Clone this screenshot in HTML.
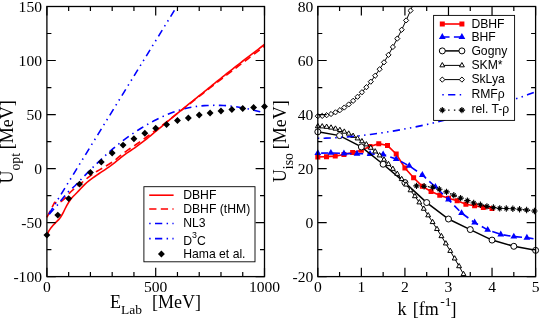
<!DOCTYPE html>
<html><head><meta charset="utf-8"><title>U_opt and U_iso</title>
<style>
html,body{margin:0;padding:0;background:#fff;}
body{width:540px;height:319px;overflow:hidden;font-family:"Liberation Sans",sans-serif;}
svg{display:block;will-change:transform;}
</style></head><body>
<svg width="540" height="319" viewBox="0 0 540 319">
<rect width="540" height="319" fill="#fff"/>
<g id="left">
<path d="M46.9 217.4 L54.6 202.3 L56.96 202.86 L59.32 202.46 L61.68 201.1 L64.03 199.09 L66.39 196.52 L68.75 193.96 L71.11 191.46 L73.47 189.32 L75.83 187.45 L78.18 185.65 L80.54 183.73 L82.9 181.74 L85.26 179.79 L87.62 177.89 L89.98 176.03 L92.33 174.28 L94.69 172.69 L97.05 171.25 L99.41 169.89 L101.77 168.53 L104.13 167.12 L106.49 165.7 L108.84 164.26 L111.2 162.74 L113.56 161.08 L115.92 159.27 L118.28 157.37 L120.64 155.44 L122.99 153.56 L125.35 151.78 L127.71 150.11 L130.07 148.49 L132.43 146.91 L134.79 145.33 L137.14 143.74 L139.5 142.11 L141.86 140.43 L144.22 138.73 L146.58 137 L148.94 135.26 L151.3 133.51 L153.65 131.74 L156.01 129.96 L158.37 128.18 L160.73 126.39 L163.09 124.59 L165.45 122.77 L167.8 120.94 L170.16 119.09 L172.52 117.25 L174.88 115.4 L177.24 113.56 L179.6 111.71 L181.96 109.88 L184.31 108.04 L186.67 106.19 L189.03 104.35 L191.39 102.5 L193.75 100.65 L196.11 98.8 L198.46 96.96 L200.82 95.11 L203.18 93.26 L205.54 91.42 L207.9 89.58 L210.26 87.74 L212.61 85.9 L214.97 84.07 L217.33 82.24 L219.69 80.42 L222.05 78.6 L224.41 76.79 L226.77 74.98 L229.12 73.17 L231.48 71.36 L233.84 69.55 L236.2 67.75 L238.56 65.95 L240.92 64.15 L243.27 62.35 L245.63 60.56 L247.99 58.77 L250.35 56.98 L252.71 55.19 L255.07 53.41 L257.42 51.63 L259.78 49.85 L262.14 48.07 L264.5 46.3" fill="none" stroke="#ff0000" stroke-width="1.6" stroke-dasharray="7.25 4.35"/>
<path d="M46.9 217.3 L175 9.39" fill="none" stroke="#0000ff" stroke-width="1.6" stroke-dasharray="1.45 4.35 7.25 4.35 1.45 4.35" stroke-dashoffset="2"/>
<path d="M46.9 217.3 L50.05 213.31 L53.2 209.67 L56.35 206.34 L59.5 202.44 L62.65 198.43 L65.8 194.52 L68.96 191.14 L72.11 188.32 L75.26 185.48 L78.41 182.17 L81.56 178.87 L84.71 175.62 L87.86 172.41 L91.01 169.24 L94.16 166.13 L97.31 163.06 L100.46 160.06 L103.61 157.11 L106.76 154.2 L109.91 151.37 L113.07 148.63 L116.22 146 L119.37 143.45 L122.52 140.98 L125.67 138.6 L128.82 136.33 L131.97 134.15 L135.12 132.04 L138.27 129.99 L141.42 128.02 L144.57 126.11 L147.72 124.28 L150.87 122.52 L154.02 120.81 L157.18 119.17 L160.33 117.61 L163.48 116.16 L166.63 114.82 L169.78 113.55 L172.93 112.35 L176.08 111.24 L179.23 110.23 L182.38 109.31 L185.53 108.46 L188.68 107.75 L191.83 107.19 L194.98 106.68 L198.13 106.23 L201.29 105.87 L204.44 105.63 L207.59 105.48 L210.74 105.37 L213.89 105.31 L217.04 105.32 L220.19 105.4 L223.34 105.52 L226.49 105.69 L229.64 105.96 L232.79 106.32 L235.94 106.72 L239.09 107.19 L242.24 107.74 L245.4 108.35 L248.55 108.99 L251.7 109.67 L254.85 110.41 L258 111.22 L261.15 112.09 L264.3 113" fill="none" stroke="#0000ff" stroke-width="1.6" stroke-dasharray="1.45 4.35 7.25 4.35" stroke-dashoffset="2"/>
<path d="M46.9 235 L48.9 230.85 L50.89 227.91 L52.89 225.55 L54.89 223.43 L56.88 221.43 L58.88 219.37 L60.87 216.79 L62.87 213.25 L64.87 209.26 L66.86 205.31 L68.86 201.97 L70.86 199.06 L72.85 196.68 L74.85 194.75 L76.84 192.71 L78.84 190.64 L80.84 188.52 L82.83 186.42 L84.83 184.36 L86.83 182.51 L88.82 180.82 L90.82 179.29 L92.82 177.85 L94.81 176.47 L96.81 175.11 L98.8 173.76 L100.8 172.44 L102.8 171.13 L104.79 169.81 L106.79 168.46 L108.79 167.09 L110.78 165.69 L112.78 164.21 L114.78 162.63 L116.77 160.98 L118.77 159.31 L120.76 157.66 L122.76 156.08 L124.76 154.61 L126.75 153.21 L128.75 151.86 L130.75 150.53 L132.74 149.18 L134.74 147.79 L136.73 146.35 L138.73 144.9 L140.73 143.42 L142.72 141.92 L144.72 140.39 L146.72 138.84 L148.71 137.23 L150.71 135.59 L152.71 133.93 L154.7 132.26 L156.7 130.6 L158.69 128.94 L160.69 127.27 L162.69 125.59 L164.68 123.93 L166.68 122.26 L168.68 120.59 L170.67 118.93 L172.67 117.26 L174.67 115.6 L176.66 113.95 L178.66 112.3 L180.65 110.67 L182.65 109.04 L184.65 107.42 L186.64 105.81 L188.64 104.21 L190.64 102.6 L192.63 101 L194.63 99.41 L196.62 97.81 L198.62 96.21 L200.62 94.6 L202.61 93 L204.61 91.39 L206.61 89.78 L208.6 88.16 L210.6 86.55 L212.6 84.94 L214.59 83.33 L216.59 81.72 L218.58 80.12 L220.58 78.52 L222.58 76.92 L224.57 75.33 L226.57 73.74 L228.57 72.17 L230.56 70.59 L232.56 69.03 L234.56 67.47 L236.55 65.91 L238.55 64.35 L240.54 62.8 L242.54 61.25 L244.54 59.71 L246.53 58.17 L248.53 56.64 L250.53 55.11 L252.52 53.58 L254.52 52.05 L256.51 50.54 L258.51 49.02 L260.51 47.51 L262.5 46 L264.5 44.5" fill="none" stroke="#ff0000" stroke-width="1.6"/>
<path d="M43.45 235.1 l3.45 -3.45 l3.45 3.45 l-3.45 3.45 z M54.33 215.1 l3.45 -3.45 l3.45 3.45 l-3.45 3.45 z M65.21 198.6 l3.45 -3.45 l3.45 3.45 l-3.45 3.45 z M76.09 184.1 l3.45 -3.45 l3.45 3.45 l-3.45 3.45 z M86.97 172.5 l3.45 -3.45 l3.45 3.45 l-3.45 3.45 z M97.85 162.1 l3.45 -3.45 l3.45 3.45 l-3.45 3.45 z M108.73 153 l3.45 -3.45 l3.45 3.45 l-3.45 3.45 z M119.61 145.1 l3.45 -3.45 l3.45 3.45 l-3.45 3.45 z M130.49 138.7 l3.45 -3.45 l3.45 3.45 l-3.45 3.45 z M141.37 133.3 l3.45 -3.45 l3.45 3.45 l-3.45 3.45 z M152.25 128.2 l3.45 -3.45 l3.45 3.45 l-3.45 3.45 z M163.13 124.5 l3.45 -3.45 l3.45 3.45 l-3.45 3.45 z M174.01 120.5 l3.45 -3.45 l3.45 3.45 l-3.45 3.45 z M184.89 118 l3.45 -3.45 l3.45 3.45 l-3.45 3.45 z M195.77 115 l3.45 -3.45 l3.45 3.45 l-3.45 3.45 z M206.65 113 l3.45 -3.45 l3.45 3.45 l-3.45 3.45 z M217.53 111 l3.45 -3.45 l3.45 3.45 l-3.45 3.45 z M228.41 109.5 l3.45 -3.45 l3.45 3.45 l-3.45 3.45 z M239.29 108.5 l3.45 -3.45 l3.45 3.45 l-3.45 3.45 z M250.17 107.5 l3.45 -3.45 l3.45 3.45 l-3.45 3.45 z M261.05 106.5 l3.45 -3.45 l3.45 3.45 l-3.45 3.45 z" fill="#000"/>
<rect x="143.9" y="186.7" width="111.1" height="75.1" fill="#fff" stroke="#000" stroke-width="0.9"/>
<path d="M149.2 195.2 H173.6" stroke="#ff0000" stroke-width="1.6" fill="none"/>
<path d="M149.2 209 H173.6" stroke="#ff0000" stroke-width="1.6" fill="none" stroke-dasharray="7.25 4.35"/>
<path d="M149.2 223.5 H173.6" stroke="#0000ff" stroke-width="1.6" fill="none" stroke-dasharray="1.45 4.35 7.25 4.35 1.45 4.35"/>
<path d="M149.2 238.6 H173.6" stroke="#0000ff" stroke-width="1.6" fill="none" stroke-dasharray="1.45 4.35 7.25 4.35"/>
<path d="M157.95 254 l3.45 -3.45 l3.45 3.45 l-3.45 3.45 z" fill="#000"/>
<g font-family="'Liberation Sans', sans-serif" font-size="12.2" fill="#000">
<text x="183.2" y="199.1">DBHF</text>
<text x="183.2" y="212.9">DBHF (tHM)</text>
<text x="183.2" y="227.4">NL3</text>
<text x="183.2" y="245.2">D<tspan dy="-7.3" font-size="8.8">3</tspan><tspan dy="7.3">C</tspan></text>
<text x="183.2" y="258.4">Hama et al.</text>
</g>
<path d="M46.9 276.6 v-8.9 M46.9 6.5 v8.9 M155.7 276.6 v-8.9 M155.7 6.5 v8.9 M264.5 276.6 v-8.9 M264.5 6.5 v8.9 M68.66 276.6 v-4.5 M68.66 6.5 v4.5 M90.42 276.6 v-4.5 M90.42 6.5 v4.5 M112.18 276.6 v-4.5 M112.18 6.5 v4.5 M133.94 276.6 v-4.5 M133.94 6.5 v4.5 M177.46 276.6 v-4.5 M177.46 6.5 v4.5 M199.22 276.6 v-4.5 M199.22 6.5 v4.5 M220.98 276.6 v-4.5 M220.98 6.5 v4.5 M242.74 276.6 v-4.5 M242.74 6.5 v4.5 M46.9 276.6 h8.9 M264.5 276.6 h-8.9 M46.9 222.58 h8.9 M264.5 222.58 h-8.9 M46.9 168.56 h8.9 M264.5 168.56 h-8.9 M46.9 114.54 h8.9 M264.5 114.54 h-8.9 M46.9 60.52 h8.9 M264.5 60.52 h-8.9 M46.9 6.5 h8.9 M264.5 6.5 h-8.9 M46.9 249.59 h4.5 M264.5 249.59 h-4.5 M46.9 195.57 h4.5 M264.5 195.57 h-4.5 M46.9 141.55 h4.5 M264.5 141.55 h-4.5 M46.9 87.53 h4.5 M264.5 87.53 h-4.5 M46.9 33.51 h4.5 M264.5 33.51 h-4.5" stroke="#000" stroke-width="1.2" fill="none"/>
<rect x="46.9" y="6.5" width="217.6" height="270.1" fill="none" stroke="#000" stroke-width="1.3"/>
</g>
<g id="right">
<clipPath id="cr"><rect x="311.8" y="6.5" width="229.8" height="270.1"/></clipPath>
<path d="M317.8 156.93 L326.51 156.66 L335.22 156.12 L343.94 154.5 L352.65 152.61 L361.36 150.18 L370.07 146.4 L378.78 143.7 L387.5 145.59 L396.21 153.96 L404.92 168 L413.63 177.72 L422.34 186.36 L431.06 191.49 L439.77 195.27 L448.48 198.24 L457.19 200.67 L465.9 204.18 L474.62 205.8 L483.33 207.42 L492.04 208.5" fill="none" stroke="#ff0000" stroke-width="1.6"/>
<path d="M315.3 154.43 h5 v5 h-5 z M324.01 154.16 h5 v5 h-5 z M332.72 153.62 h5 v5 h-5 z M341.44 152 h5 v5 h-5 z M350.15 150.11 h5 v5 h-5 z M358.86 147.68 h5 v5 h-5 z M367.57 143.9 h5 v5 h-5 z M376.28 141.2 h5 v5 h-5 z M385 143.09 h5 v5 h-5 z M393.71 151.46 h5 v5 h-5 z M402.42 165.5 h5 v5 h-5 z M411.13 175.22 h5 v5 h-5 z M419.84 183.86 h5 v5 h-5 z M428.56 188.99 h5 v5 h-5 z M437.27 192.77 h5 v5 h-5 z M445.98 195.74 h5 v5 h-5 z M454.69 198.17 h5 v5 h-5 z M463.4 201.68 h5 v5 h-5 z M472.12 203.3 h5 v5 h-5 z M480.83 204.92 h5 v5 h-5 z M489.54 206 h5 v5 h-5 z" fill="#ff0000"/>
<path d="M317.8 153.15 L330.87 152.88 L343.94 153.42 L357 153.69 L370.07 153.96 L383.14 154.5 L396.21 159.09 L409.28 165.84 L422.34 175.02 L435.41 186.9 L448.48 199.59 L461.55 213.09 L474.62 222.54 L487.68 229.83 L500.75 234.42 L513.82 236.58 L526.89 237.66 L535.6 239.01" fill="none" stroke="#0000ff" stroke-width="1.6" stroke-dasharray="7.25 4.35" stroke-dashoffset="8.28"/>
<path d="M317.8 149.22 l3.4 5.9 h-6.8 z M330.87 148.95 l3.4 5.9 h-6.8 z M343.94 149.49 l3.4 5.9 h-6.8 z M357 149.76 l3.4 5.9 h-6.8 z M370.07 150.03 l3.4 5.9 h-6.8 z M383.14 150.57 l3.4 5.9 h-6.8 z M396.21 155.16 l3.4 5.9 h-6.8 z M409.28 161.91 l3.4 5.9 h-6.8 z M422.34 171.09 l3.4 5.9 h-6.8 z M435.41 182.97 l3.4 5.9 h-6.8 z M448.48 195.66 l3.4 5.9 h-6.8 z M461.55 209.16 l3.4 5.9 h-6.8 z M474.62 218.61 l3.4 5.9 h-6.8 z M487.68 225.9 l3.4 5.9 h-6.8 z M500.75 230.49 l3.4 5.9 h-6.8 z M513.82 232.65 l3.4 5.9 h-6.8 z M526.89 233.73 l3.4 5.9 h-6.8 z" fill="#0000ff"/>
<path d="M317.8 131.82 L339.58 135.6 L361.36 146.94 L383.14 164.22 L404.92 182.58 L426.7 202.56 L448.48 219.03 L470.26 229.56 L492.04 240.09 L513.82 246.3 L535.6 250.35" fill="none" stroke="#000" stroke-width="1.5"/>
<circle cx="317.8" cy="131.82" r="3" fill="#fff" stroke="#000" stroke-width="1"/>
<circle cx="339.58" cy="135.6" r="3" fill="#fff" stroke="#000" stroke-width="1"/>
<circle cx="361.36" cy="146.94" r="3" fill="#fff" stroke="#000" stroke-width="1"/>
<circle cx="383.14" cy="164.22" r="3" fill="#fff" stroke="#000" stroke-width="1"/>
<circle cx="404.92" cy="182.58" r="3" fill="#fff" stroke="#000" stroke-width="1"/>
<circle cx="426.7" cy="202.56" r="3" fill="#fff" stroke="#000" stroke-width="1"/>
<circle cx="448.48" cy="219.03" r="3" fill="#fff" stroke="#000" stroke-width="1"/>
<circle cx="470.26" cy="229.56" r="3" fill="#fff" stroke="#000" stroke-width="1"/>
<circle cx="492.04" cy="240.09" r="3" fill="#fff" stroke="#000" stroke-width="1"/>
<circle cx="513.82" cy="246.3" r="3" fill="#fff" stroke="#000" stroke-width="1"/>
<circle cx="535.6" cy="250.35" r="3" fill="#fff" stroke="#000" stroke-width="1"/>
<path d="M317.8 126.31 L322.22 126.46 L326.63 126.92 L331.05 127.68 L335.46 128.73 L339.88 130.09 L344.29 131.75 L348.71 133.71 L353.12 135.96 L357.54 138.5 L361.95 141.33 L366.37 144.45 L370.78 147.85 L375.2 151.53 L379.61 155.48 L384.03 159.7 L388.44 164.18 L392.86 168.92 L397.27 173.92 L401.69 179.16 L406.1 184.64 L410.52 190.35 L414.93 196.29 L419.35 202.45 L423.76 208.82 L428.18 215.39 L432.59 222.16 L437.01 229.11 L441.42 236.24 L445.84 243.53 L450.25 250.97 L454.67 258.57 L459.08 266.29 L463.5 274.15" fill="none" stroke="#000" stroke-width="1"/>
<path d="M317.8 123.45 l2.45 4.3 h-4.9 z M322.22 123.6 l2.45 4.3 h-4.9 z M326.63 124.05 l2.45 4.3 h-4.9 z M331.05 124.81 l2.45 4.3 h-4.9 z M335.46 125.87 l2.45 4.3 h-4.9 z M339.88 127.23 l2.45 4.3 h-4.9 z M344.29 128.89 l2.45 4.3 h-4.9 z M348.71 130.84 l2.45 4.3 h-4.9 z M353.12 133.09 l2.45 4.3 h-4.9 z M357.54 135.63 l2.45 4.3 h-4.9 z M361.95 138.47 l2.45 4.3 h-4.9 z M366.37 141.58 l2.45 4.3 h-4.9 z M370.78 144.98 l2.45 4.3 h-4.9 z M375.2 148.66 l2.45 4.3 h-4.9 z M379.61 152.61 l2.45 4.3 h-4.9 z M384.03 156.83 l2.45 4.3 h-4.9 z M388.44 161.31 l2.45 4.3 h-4.9 z M392.86 166.06 l2.45 4.3 h-4.9 z M397.27 171.05 l2.45 4.3 h-4.9 z M401.69 176.29 l2.45 4.3 h-4.9 z M406.1 181.77 l2.45 4.3 h-4.9 z M410.52 187.49 l2.45 4.3 h-4.9 z M414.93 193.43 l2.45 4.3 h-4.9 z M419.35 199.59 l2.45 4.3 h-4.9 z M423.76 205.96 l2.45 4.3 h-4.9 z M428.18 212.53 l2.45 4.3 h-4.9 z M432.59 219.29 l2.45 4.3 h-4.9 z M437.01 226.24 l2.45 4.3 h-4.9 z M441.42 233.37 l2.45 4.3 h-4.9 z M445.84 240.66 l2.45 4.3 h-4.9 z M450.25 248.11 l2.45 4.3 h-4.9 z M454.67 255.7 l2.45 4.3 h-4.9 z M459.08 263.43 l2.45 4.3 h-4.9 z M463.5 271.28 l2.45 4.3 h-4.9 z" fill="#fff" stroke="#000" stroke-width="1"/>
<path d="M317.8 116.16 L322.22 115.92 L326.63 115.2 L331.05 114.01 L335.46 112.33 L339.88 110.18 L344.29 107.54 L348.71 104.43 L353.12 100.84 L357.54 96.77 L361.95 92.22 L366.37 87.2 L370.78 81.69 L375.2 75.71 L379.61 69.24 L384.03 62.3 L388.44 54.88 L392.86 46.98 L397.27 38.6 L401.69 29.75 L406.1 20.41 L410.52 10.6 L414.93 0.31" fill="none" stroke="#000" stroke-width="1" clip-path="url(#cr)"/>
<path d="M315.2 116.16 l2.6 -2.6 l2.6 2.6 l-2.6 2.6 z M319.62 115.92 l2.6 -2.6 l2.6 2.6 l-2.6 2.6 z M324.03 115.2 l2.6 -2.6 l2.6 2.6 l-2.6 2.6 z M328.45 114.01 l2.6 -2.6 l2.6 2.6 l-2.6 2.6 z M332.86 112.33 l2.6 -2.6 l2.6 2.6 l-2.6 2.6 z M337.28 110.18 l2.6 -2.6 l2.6 2.6 l-2.6 2.6 z M341.69 107.54 l2.6 -2.6 l2.6 2.6 l-2.6 2.6 z M346.11 104.43 l2.6 -2.6 l2.6 2.6 l-2.6 2.6 z M350.52 100.84 l2.6 -2.6 l2.6 2.6 l-2.6 2.6 z M354.94 96.77 l2.6 -2.6 l2.6 2.6 l-2.6 2.6 z M359.35 92.22 l2.6 -2.6 l2.6 2.6 l-2.6 2.6 z M363.77 87.2 l2.6 -2.6 l2.6 2.6 l-2.6 2.6 z M368.18 81.69 l2.6 -2.6 l2.6 2.6 l-2.6 2.6 z M372.6 75.71 l2.6 -2.6 l2.6 2.6 l-2.6 2.6 z M377.01 69.24 l2.6 -2.6 l2.6 2.6 l-2.6 2.6 z M381.43 62.3 l2.6 -2.6 l2.6 2.6 l-2.6 2.6 z M385.84 54.88 l2.6 -2.6 l2.6 2.6 l-2.6 2.6 z M390.26 46.98 l2.6 -2.6 l2.6 2.6 l-2.6 2.6 z M394.67 38.6 l2.6 -2.6 l2.6 2.6 l-2.6 2.6 z M399.09 29.75 l2.6 -2.6 l2.6 2.6 l-2.6 2.6 z M403.5 20.41 l2.6 -2.6 l2.6 2.6 l-2.6 2.6 z M407.92 10.6 l2.6 -2.6 l2.6 2.6 l-2.6 2.6 z" fill="#fff" stroke="#000" stroke-width="1"/>
<path d="M317.8 138.3 L325.31 138.17 L332.82 137.87 L340.33 137.42 L347.84 136.85 L355.35 136.16 L362.86 135.35 L370.37 134.44 L377.88 133.42 L385.39 132.3 L392.9 131.09 L400.41 129.78 L407.92 128.37 L415.43 126.88 L422.94 125.3 L430.46 123.63 L437.97 121.88 L445.48 120.04 L452.99 118.12 L460.5 116.12 L468.01 114.03 L475.52 111.87 L483.03 109.63 L490.54 107.31 L498.05 104.91 L505.56 102.44 L513.07 99.89 L520.58 97.27 L528.09 94.58 L535.6 91.81" fill="none" stroke="#0000ff" stroke-width="1.6" stroke-dasharray="1.45 4.35 7.25 4.35 1.45 4.35"/>
<path d="M416.5 185.9 L424.1 186.2 L432.6 187.3 L439.3 189.3 L446.5 191.9 L453.8 195.3 L460.6 198.1 L467.4 200.6 L473.7 203 L480.4 204.7 L486.9 206.4 L493.4 207.5 L499.7 208.4 L506.3 208.55 L512.85 208.75 L519.55 209.2 L526.6 210 L534.4 211" fill="none" stroke="#000" stroke-width="1.3" stroke-dasharray="1.45 4.35"/>
<path d="M413.3 185.9 L419.7 185.9 M414.58 183.98 L418.42 187.82 M416.5 182.7 L416.5 189.1 M418.42 183.98 L414.58 187.82 M420.9 186.2 L427.3 186.2 M422.18 184.28 L426.02 188.12 M424.1 183 L424.1 189.4 M426.02 184.28 L422.18 188.12 M429.4 187.3 L435.8 187.3 M430.68 185.38 L434.52 189.22 M432.6 184.1 L432.6 190.5 M434.52 185.38 L430.68 189.22 M436.1 189.3 L442.5 189.3 M437.38 187.38 L441.22 191.22 M439.3 186.1 L439.3 192.5 M441.22 187.38 L437.38 191.22 M443.3 191.9 L449.7 191.9 M444.58 189.98 L448.42 193.82 M446.5 188.7 L446.5 195.1 M448.42 189.98 L444.58 193.82 M450.6 195.3 L457 195.3 M451.88 193.38 L455.72 197.22 M453.8 192.1 L453.8 198.5 M455.72 193.38 L451.88 197.22 M457.4 198.1 L463.8 198.1 M458.68 196.18 L462.52 200.02 M460.6 194.9 L460.6 201.3 M462.52 196.18 L458.68 200.02 M464.2 200.6 L470.6 200.6 M465.48 198.68 L469.32 202.52 M467.4 197.4 L467.4 203.8 M469.32 198.68 L465.48 202.52 M470.5 203 L476.9 203 M471.78 201.08 L475.62 204.92 M473.7 199.8 L473.7 206.2 M475.62 201.08 L471.78 204.92 M477.2 204.7 L483.6 204.7 M478.48 202.78 L482.32 206.62 M480.4 201.5 L480.4 207.9 M482.32 202.78 L478.48 206.62 M483.7 206.4 L490.1 206.4 M484.98 204.48 L488.82 208.32 M486.9 203.2 L486.9 209.6 M488.82 204.48 L484.98 208.32 M490.2 207.5 L496.6 207.5 M491.48 205.58 L495.32 209.42 M493.4 204.3 L493.4 210.7 M495.32 205.58 L491.48 209.42 M496.5 208.4 L502.9 208.4 M497.78 206.48 L501.62 210.32 M499.7 205.2 L499.7 211.6 M501.62 206.48 L497.78 210.32 M503.1 208.55 L509.5 208.55 M504.38 206.63 L508.22 210.47 M506.3 205.35 L506.3 211.75 M508.22 206.63 L504.38 210.47 M509.65 208.75 L516.05 208.75 M510.93 206.83 L514.77 210.67 M512.85 205.55 L512.85 211.95 M514.77 206.83 L510.93 210.67 M516.35 209.2 L522.75 209.2 M517.63 207.28 L521.47 211.12 M519.55 206 L519.55 212.4 M521.47 207.28 L517.63 211.12 M523.4 210 L529.8 210 M524.68 208.08 L528.52 211.92 M526.6 206.8 L526.6 213.2 M528.52 208.08 L524.68 211.92 M531.2 211 L537.6 211 M532.48 209.08 L536.32 212.92 M534.4 207.8 L534.4 214.2 M536.32 209.08 L532.48 212.92" fill="none" stroke="#000" stroke-width="1.1"/>
<circle cx="416.5" cy="185.9" r="1.2" fill="#000"/>
<circle cx="424.1" cy="186.2" r="1.2" fill="#000"/>
<circle cx="432.6" cy="187.3" r="1.2" fill="#000"/>
<circle cx="439.3" cy="189.3" r="1.2" fill="#000"/>
<circle cx="446.5" cy="191.9" r="1.2" fill="#000"/>
<circle cx="453.8" cy="195.3" r="1.2" fill="#000"/>
<circle cx="460.6" cy="198.1" r="1.2" fill="#000"/>
<circle cx="467.4" cy="200.6" r="1.2" fill="#000"/>
<circle cx="473.7" cy="203" r="1.2" fill="#000"/>
<circle cx="480.4" cy="204.7" r="1.2" fill="#000"/>
<circle cx="486.9" cy="206.4" r="1.2" fill="#000"/>
<circle cx="493.4" cy="207.5" r="1.2" fill="#000"/>
<circle cx="499.7" cy="208.4" r="1.2" fill="#000"/>
<circle cx="506.3" cy="208.55" r="1.2" fill="#000"/>
<circle cx="512.85" cy="208.75" r="1.2" fill="#000"/>
<circle cx="519.55" cy="209.2" r="1.2" fill="#000"/>
<circle cx="526.6" cy="210" r="1.2" fill="#000"/>
<circle cx="534.4" cy="211" r="1.2" fill="#000"/>
<rect x="433.6" y="15.4" width="81" height="105" fill="#fff" stroke="#000" stroke-width="0.9"/>
<path d="M442.3 24 L461.9 24" fill="none" stroke="#ff0000" stroke-width="1.6"/>
<path d="M439.8 21.5 h5 v5 h-5 z M459.4 21.5 h5 v5 h-5 z" fill="#ff0000"/>
<path d="M442.3 37 L461.9 37" fill="none" stroke="#0000ff" stroke-width="1.6" stroke-dasharray="7.25 4.35" stroke-dashoffset="0"/>
<path d="M442.3 33.07 l3.4 5.9 h-6.8 z M461.9 33.07 l3.4 5.9 h-6.8 z" fill="#0000ff"/>
<path d="M442.3 50.9 L461.9 50.9" fill="none" stroke="#000" stroke-width="1.5"/>
<circle cx="442.3" cy="50.9" r="3" fill="#fff" stroke="#000" stroke-width="1"/>
<circle cx="461.9" cy="50.9" r="3" fill="#fff" stroke="#000" stroke-width="1"/>
<path d="M442.3 65.4 L461.9 65.4" fill="none" stroke="#000" stroke-width="1"/>
<path d="M442.3 62.53 l2.45 4.3 h-4.9 z M461.9 62.53 l2.45 4.3 h-4.9 z" fill="#fff" stroke="#000" stroke-width="1"/>
<path d="M442.3 79.6 L461.9 79.6" fill="none" stroke="#000" stroke-width="1"/>
<path d="M439.7 79.6 l2.6 -2.6 l2.6 2.6 l-2.6 2.6 z M459.3 79.6 l2.6 -2.6 l2.6 2.6 l-2.6 2.6 z" fill="#fff" stroke="#000" stroke-width="1"/>
<path d="M442.3 94.8 L461.9 94.8" fill="none" stroke="#0000ff" stroke-width="1.6" stroke-dasharray="1.45 4.35 7.25 4.35 1.45 4.35"/>
<path d="M442.3 110.1 L461.9 110.1" fill="none" stroke="#000" stroke-width="1.3" stroke-dasharray="1.45 4.35"/>
<path d="M439.1 110.1 L445.5 110.1 M440.38 108.18 L444.22 112.02 M442.3 106.9 L442.3 113.3 M444.22 108.18 L440.38 112.02 M458.7 110.1 L465.1 110.1 M459.98 108.18 L463.82 112.02 M461.9 106.9 L461.9 113.3 M463.82 108.18 L459.98 112.02" fill="none" stroke="#000" stroke-width="1.1"/>
<circle cx="442.3" cy="110.1" r="1.2" fill="#000"/>
<circle cx="461.9" cy="110.1" r="1.2" fill="#000"/>
<g font-family="'Liberation Sans', sans-serif" font-size="12.2" fill="#000">
<text x="471.4" y="27.9">DBHF</text>
<text x="471.4" y="41.2">BHF</text>
<text x="471.4" y="54.8">Gogny</text>
<text x="471.4" y="69.3">SKM*</text>
<text x="471.4" y="83.1">SkLya</text>
<text x="471.4" y="97.9">RMFρ</text>
<text x="471.4" y="113.1">rel. T-ρ</text>
</g>
<path d="M317.8 276.6 v-8.9 M317.8 6.5 v8.9 M361.36 276.6 v-8.9 M361.36 6.5 v8.9 M404.92 276.6 v-8.9 M404.92 6.5 v8.9 M448.48 276.6 v-8.9 M448.48 6.5 v8.9 M492.04 276.6 v-8.9 M492.04 6.5 v8.9 M535.6 276.6 v-8.9 M535.6 6.5 v8.9 M339.58 276.6 v-4.5 M339.58 6.5 v4.5 M383.14 276.6 v-4.5 M383.14 6.5 v4.5 M426.7 276.6 v-4.5 M426.7 6.5 v4.5 M470.26 276.6 v-4.5 M470.26 6.5 v4.5 M513.82 276.6 v-4.5 M513.82 6.5 v4.5 M317.8 276.6 h8.9 M535.6 276.6 h-8.9 M317.8 222.58 h8.9 M535.6 222.58 h-8.9 M317.8 168.56 h8.9 M535.6 168.56 h-8.9 M317.8 114.54 h8.9 M535.6 114.54 h-8.9 M317.8 60.52 h8.9 M535.6 60.52 h-8.9 M317.8 6.5 h8.9 M535.6 6.5 h-8.9 M317.8 249.59 h4.5 M535.6 249.59 h-4.5 M317.8 195.57 h4.5 M535.6 195.57 h-4.5 M317.8 141.55 h4.5 M535.6 141.55 h-4.5 M317.8 87.53 h4.5 M535.6 87.53 h-4.5 M317.8 33.51 h4.5 M535.6 33.51 h-4.5" stroke="#000" stroke-width="1.2" fill="none"/>
<rect x="317.8" y="6.5" width="217.8" height="270.1" fill="none" stroke="#000" stroke-width="1.3"/>
</g>
<g font-family="'Liberation Serif', serif" fill="#000" font-size="15.6">
<text x="42" y="282.3" text-anchor="end">-100</text>
<text x="42" y="228.28" text-anchor="end">-50</text>
<text x="42" y="174.26" text-anchor="end">0</text>
<text x="42" y="120.24" text-anchor="end">50</text>
<text x="42" y="66.22" text-anchor="end">100</text>
<text x="42" y="12.2" text-anchor="end">150</text>
<text x="46.9" y="291.7" text-anchor="middle">0</text>
<text x="155.7" y="291.7" text-anchor="middle">500</text>
<text x="264.5" y="291.7" text-anchor="middle">1000</text>
<text x="313.4" y="282.3" text-anchor="end">-20</text>
<text x="313.4" y="228.28" text-anchor="end">0</text>
<text x="313.4" y="174.26" text-anchor="end">20</text>
<text x="313.4" y="120.24" text-anchor="end">40</text>
<text x="313.4" y="66.22" text-anchor="end">60</text>
<text x="313.4" y="12.2" text-anchor="end">80</text>
<text x="317.8" y="291.7" text-anchor="middle">0</text>
<text x="361.36" y="291.7" text-anchor="middle">1</text>
<text x="404.92" y="291.7" text-anchor="middle">2</text>
<text x="448.48" y="291.7" text-anchor="middle">3</text>
<text x="492.04" y="291.7" text-anchor="middle">4</text>
<text x="535.6" y="291.7" text-anchor="middle">5</text>
</g>
<g font-family="'Liberation Serif', serif" fill="#000" font-size="18">
<text x="110" y="307.6">E<tspan dy="6.2" font-size="13.5">Lab</tspan><tspan dy="-6.2" dx="10">[MeV]</tspan></text>
<text x="397.6" y="314.6">k<tspan dx="1.6"> [fm</tspan><tspan dy="-9" dx="1.5" font-size="13.5">-1</tspan><tspan dy="9" dx="-1">]</tspan></text>
<text transform="translate(13.4,183.6) rotate(-90)">U<tspan dy="6.8" font-size="13.8">opt</tspan><tspan dy="-6.8" dx="3.8">[MeV]</tspan></text>
<text transform="translate(286.3,182.2) rotate(-90)">U<tspan dy="6.8" font-size="13.8">iso</tspan><tspan dy="-6.8" dx="3.8">[MeV]</tspan></text>
</g>
</svg>
</body></html>
